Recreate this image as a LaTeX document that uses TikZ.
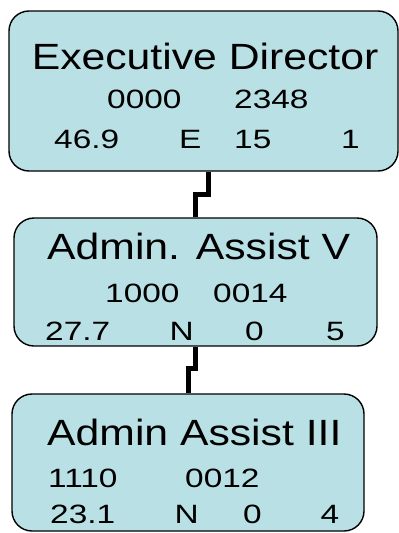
\documentclass[tikz,border=0pt]{standalone}
\usepackage{fontspec}
\setmainfont{Liberation Sans}
\usepackage{graphicx}
\usepackage{xcolor}
\definecolor{boxfill}{RGB}{185,224,228}
\newcommand{\ttltext}[1]{\scalebox{1.17}[1]{#1}}
\newcommand{\numtext}[1]{\scalebox{1.26}[1]{#1}}

\begin{document}
\begin{tikzpicture}[x=1pt, y=-1pt,
    posbox/.style={draw=black, line width=1.4pt, fill=boxfill,
                   rectangle, rounded corners=20pt, inner sep=0pt},
    title/.style={anchor=base west, inner sep=0pt,
                  font=\fontsize{36.5}{40}\selectfont},
    num/.style={anchor=base west, inner sep=0pt,
                font=\fontsize{26.5}{30}\selectfont},
    link/.style={draw=black, line width=5pt}]
  \useasboundingbox (0,0) rectangle (399,533);

  % position boxes
  \node[posbox, minimum width=389pt, minimum height=160pt] (exec) at (203.5,91) {};
  \node[posbox, minimum width=363pt, minimum height=128pt] (assistv) at (195.5,282) {};
  \node[posbox, minimum width=352pt, minimum height=137pt] (assistiii) at (188,462.5) {};

  % Executive Director
  \node[title] (exec-t) at (31.6,69.3) {\ttltext{Executive Director}};
  \node[num] (exec-code) at (107,108) {\numtext{0000}};
  \node[num] (exec-no) at (234,108) {\numtext{2348}};
  \node[num] (exec-pay) at (54,148) {\numtext{46.9}};
  \node[num] (exec-st) at (179,148) {\numtext{E}};
  \node[num] (exec-yr) at (234,148) {\numtext{15}};
  \node[num] (exec-lv) at (341,148) {\numtext{1}};

  % Admin. Assist V
  \node[title] (assistv-t) at (47,259) {\ttltext{Admin. Assist V}};
  \node[num] (assistv-code) at (105,302) {\numtext{1000}};
  \node[num] (assistv-no) at (213,302) {\numtext{0014}};
  \node[num] (assistv-pay) at (45,340) {\numtext{27.7}};
  \node[num] (assistv-st) at (169.5,340) {\numtext{N}};
  \node[num] (assistv-yr) at (245,340) {\numtext{0}};
  \node[num] (assistv-lv) at (326,340) {\numtext{5}};

  % Admin Assist III
  \node[title] (assistiii-t) at (47,445) {\ttltext{Admin Assist III}};
  \node[num] (assistiii-code) at (48,487) {\numtext{1110}};
  \node[num] (assistiii-no) at (185,487) {\numtext{0012}};
  \node[num] (assistiii-pay) at (50,523) {\numtext{23.1}};
  \node[num] (assistiii-st) at (174.5,523) {\numtext{N}};
  \node[num] (assistiii-yr) at (243,523) {\numtext{0}};
  \node[num] (assistiii-lv) at (320.5,523) {\numtext{4}};

  % reporting lines
  \draw[link] ([xshift=4.5]exec.south) -- ++(0,23) -| (assistv.north);
  \draw[link] (assistv.south) -- ++(0,22) -| (assistiii.north);
\end{tikzpicture}
\end{document}
